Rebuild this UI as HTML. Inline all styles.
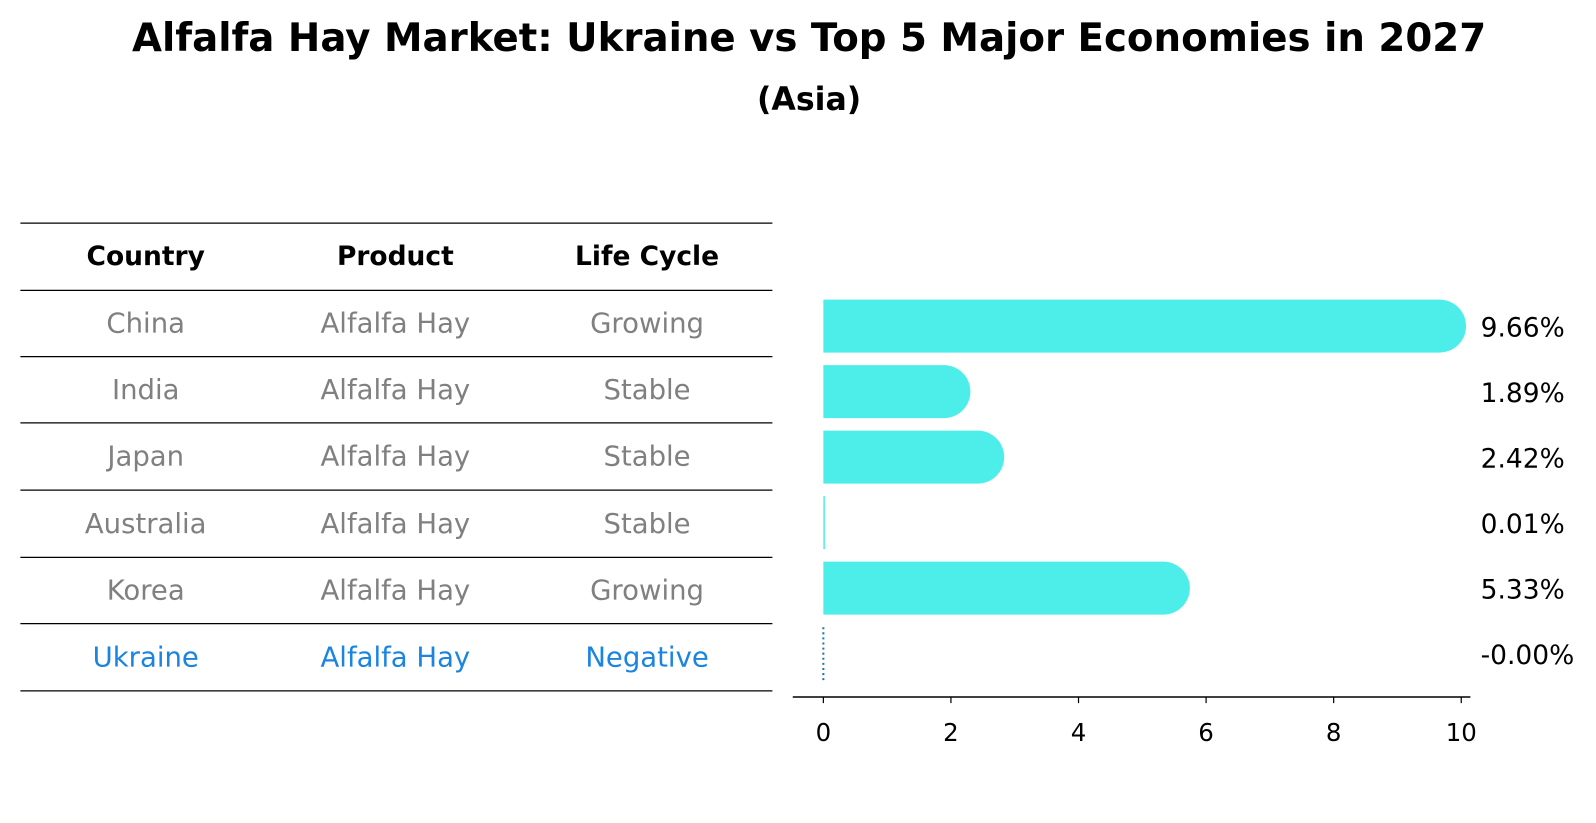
<!DOCTYPE html>
<html><head><meta charset="utf-8"><style>
body{margin:0;background:#fff;font-family:"DejaVu Sans","Liberation Sans",sans-serif;}
#wrap{position:relative;width:1596px;height:823px;overflow:hidden;}
</style></head><body>
<div id="wrap">
<svg id="svg" width="1596" height="823" xmlns="http://www.w3.org/2000/svg" font-family="DejaVu Sans, Liberation Sans, sans-serif">
<g transform="scale(1.019)">
<text x="794" y="50" text-anchor="middle" font-size="38" font-weight="bold">Alfalfa Hay Market: Ukraine vs Top 5 Major Economies in 2027</text>
<text x="794" y="108" text-anchor="middle" font-size="31" font-weight="bold">(Asia)</text>
<g id="table"></g>
<g id="bars"></g>
<g id="axis"></g>
</g>
</svg>
</div>
<script>
const countries=["China","India","Japan","Australia","Korea","Ukraine"];
const products=["Alfalfa Hay","Alfalfa Hay","Alfalfa Hay","Alfalfa Hay","Alfalfa Hay","Alfalfa Hay"];
const lifeCycles=["Growing","Stable","Stable","Stable","Growing","Negative"];
const growth=[9.66,1.89,2.42,0.01,5.33,-0.001];
const valueLabels=["9.66%","1.89%","2.42%","0.01%","5.33%","-0.00%"];
const xTicks=[0,2,4,6,8,10];

const NS="http://www.w3.org/2000/svg";
function mk(tag,attrs,parent,txt){const e=document.createElementNS(NS,tag);for(const k in attrs)e.setAttribute(k,attrs[k]);if(txt!==undefined)e.textContent=txt;parent.appendChild(e);return e;}
const xs=v=>808+v*62.6;
const rowY=i=>320+i*64.3;
const tbl=document.getElementById('table');
const lines=[219,285,350,415,481,547,612,678];
lines.forEach((y,i)=>{const l=mk('line',{x1:20,x2:758,y1:y,y2:y,stroke:'#000','stroke-width':1.2},tbl);

});
const colX=[143,388,635];
["Country","Product","Life Cycle"].forEach((h,j)=>{const t=mk('text',{x:colX[j],y:260,'text-anchor':'middle','font-size':26,'font-weight':'bold'},tbl,h);

});
countries.forEach((c,i)=>{
 const y=lines[i+1]+(lines[i+2]-lines[i+1])/2+9;
 const col=c==="Ukraine"?"#1a84e0":"#808080";
 [c,products[i],lifeCycles[i]].forEach((v,j)=>{const t=mk('text',{x:colX[j],y:y,'text-anchor':'middle','font-size':27,fill:col},tbl,v);
 
 });
});
const bars=document.getElementById('bars');
const h=52;
growth.forEach((v,i)=>{
 const cy=rowY(i);
 if(v>0.05){
  const x1=xs(v);
  const p=mk('path',{d:`M${xs(0)},${cy-h/2} L${x1},${cy-h/2} A${h/2},${h/2} 0 0 1 ${x1},${cy+h/2} L${xs(0)},${cy+h/2} Z`,fill:'#4deeea'},bars);
  
  
 } else if(v>0){
  const r=mk('rect',{x:xs(0),y:cy-h/2,width:Math.max(1.5,xs(v)-xs(0)),height:h,fill:'#4deeea'},bars);
  
  
 } else {
  const l=mk('line',{x1:xs(0),x2:xs(0),y1:cy-h/2,y2:cy+h/2,stroke:'#1f77b4','stroke-width':2,'stroke-dasharray':'2,3'},bars);
  
  
 }
 const t=mk('text',{x:1453,y:cy+10,'font-size':26},bars,valueLabels[i]);
 
 
});
const ax=document.getElementById('axis');
const al=mk('line',{x1:778,x2:1443,y1:684,y2:684,stroke:'#000','stroke-width':1.5},ax);


xTicks.forEach(v=>{
 const l=mk('line',{x1:xs(v),x2:xs(v),y1:684,y2:690,stroke:'#000','stroke-width':1.2},ax);
 
 
 const t=mk('text',{x:xs(v),y:727,'text-anchor':'middle','font-size':24},ax,String(v));
 
 
});
</script>
</body></html>
